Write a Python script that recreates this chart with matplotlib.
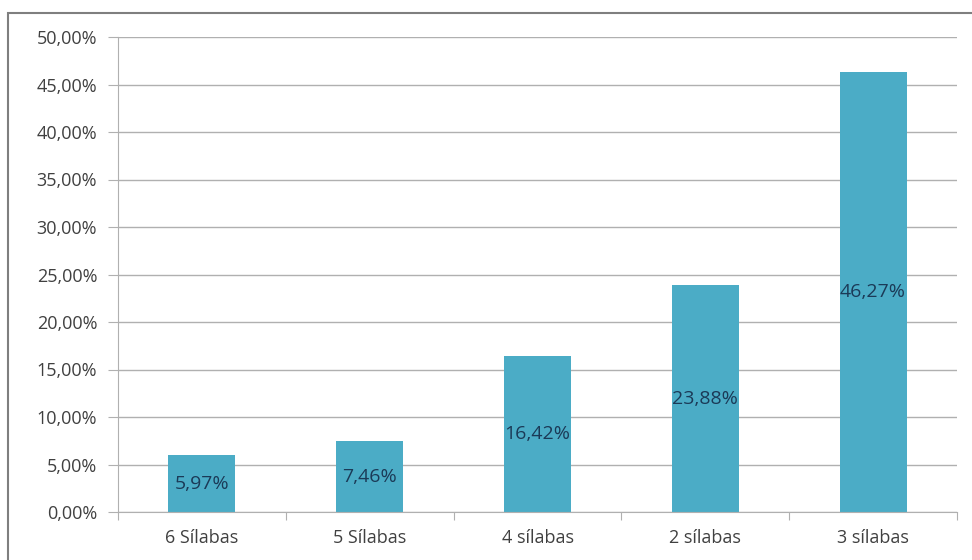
import matplotlib
matplotlib.use("Agg")
import matplotlib.pyplot as plt
from matplotlib.patches import Rectangle
from matplotlib.ticker import FuncFormatter, MultipleLocator

categories = ["6 Sílabas", "5 Sílabas", "4 sílabas", "2 sílabas", "3 sílabas"]
values = [5.97, 7.46, 16.42, 23.88, 46.27]

plt.rcParams['font.family'] = ['Open Sans', 'DejaVu Sans']

fig = plt.figure(figsize=(9.72, 5.6), dpi=100)
ax = fig.add_axes([118/972, 1 - 512/560, (957 - 118)/972, (512 - 37)/560])

# outer chart border (only left/top visible in the reference)
fig.patches.append(Rectangle((8/972, -0.1), 1.2, 1 - 13/560 + 0.1, transform=fig.transFigure,
                             fill=False, edgecolor="#7f7f7f", linewidth=1.5))

x = list(range(len(categories)))
bars = ax.bar(x, values, width=0.4, color="#4bacc6", zorder=2)

for b, v in zip(bars, values):
    ax.text(b.get_x() + b.get_width()/2, v/2, f"{v:.2f}%".replace(".", ","),
            ha="center", va="center", fontsize=14, color="#1b3a57", zorder=3)

ax.set_xlim(-0.5, len(categories) - 0.5)
ax.set_ylim(0, 50)
ax.yaxis.set_major_locator(MultipleLocator(5))
ax.yaxis.set_major_formatter(FuncFormatter(lambda v, p: f"{v:.2f}%".replace(".", ",")))
ax.grid(axis="y", color="#b0b0b0", linewidth=1, zorder=1)

ax.set_xticks([i + 0.5 for i in x[:-1]] + [-0.5, len(categories) - 0.5])
ax.set_xticklabels([])
ax.set_xticks(x, minor=True)
ax.set_xticklabels(categories, minor=True)
ax.tick_params(axis="x", which="major", length=6, color="#b0b0b0")
ax.tick_params(axis="x", which="minor", length=0, pad=12)
ax.tick_params(axis="y", length=7, color="#b0b0b0", pad=8)
ax.tick_params(which="both", labelsize=13, labelcolor="#404040")

for s in ["top", "right"]:
    ax.spines[s].set_visible(False)
ax.spines["left"].set_color("#b0b0b0")
ax.spines["bottom"].set_color("#b0b0b0")

fig.savefig("out.png", dpi=100)
